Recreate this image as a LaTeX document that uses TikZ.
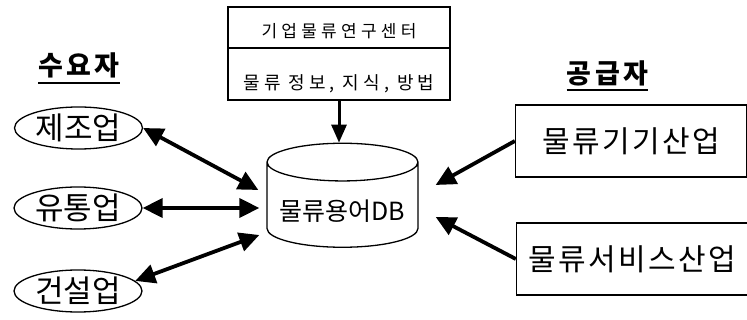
\documentclass[tikz,border=0pt]{standalone}
\usepackage{fontspec}
\newfontfamily\kr{Noto Sans CJK KR}
\usetikzlibrary{arrows.meta, calc, positioning, shapes.geometric}
\newcommand{\headline}[1]{\setbox0=\hbox{#1}\rlap{\vrule width\wd0 height -6pt depth 8pt}\box0}

\begin{document}
\begin{tikzpicture}[x=1pt, y=-1pt,
    title/.style={anchor=base, font=\kr\bfseries\fontsize{27}{29}\selectfont\addfontfeature{LetterSpace=13}},
    user/.style={draw, ellipse, line width=1.3pt, minimum width=128pt, minimum height=42pt, inner xsep=-4pt, inner ysep=-3pt, font=\kr\fontsize{31}{33}\selectfont},
    maker/.style={draw, line width=1.3pt, minimum width=231pt, minimum height=72pt, inner sep=0pt, font=\kr\fontsize{30}{32}\selectfont\addfontfeature{LetterSpace=8}},
    cell/.style={draw, line width=1.2pt, minimum width=222pt, inner sep=0pt, text depth=0pt},
    both/.style={line width=3.8pt, {Triangle[length=20pt,width=19pt]}-{Triangle[length=20pt,width=19pt]}},
    feed/.style={line width=3.8pt, -{Triangle[length=20pt,width=19pt]}},
    down/.style={line width=3pt, -{Triangle[length=18pt,width=15pt]}}
]
    \useasboundingbox (0,0) rectangle (747,320);

    % demand side
    \node[title] (dem) at (79,76) {\headline{수요자}};
    \node[user] (man) at (78.5,128) {제조업};
    \node[user] (dist) at (78,208) {유통업};
    \node[user] (con) at (78,291) {건설업};

    % research center
    \node[cell, minimum height=41pt, text height=19.5pt, font=\kr\fontsize{17}{19}\selectfont\addfontfeature{LetterSpace=25}] (ctr) at (339,27.5) {기업물류연구센터};
    \node[cell, minimum height=52pt, text height=31.5pt, font=\kr\fontsize{18}{20}\selectfont\addfontfeature{LetterSpace=22}] (info) at (339,74) {물류 정보, 지식, 방법};

    % database
    \node[draw, cylinder, shape border rotate=90, aspect=0.3, line width=1.3pt, minimum height=104pt, minimum width=151pt, inner sep=0pt, text height=32pt, text depth=0pt, font=\kr\fontsize{25}{27}\selectfont] (db) at (342.5,205) {물류용어DB};

    % supply side
    \node[title] (sup) at (607.5,83.5) {\headline{공급자}};
    \node[maker] (equip) at (631,141) {물류기기산업};
    \node[maker] (serv) at (632,259) {물류서비스산업};

    \coordinate (dbUL) at ($(db.west)+(-8,-15)$);
    \coordinate (dbML) at ($(db.west)+(-7,3)$);
    \coordinate (dbLL) at ($(db.west)+(-7,30)$);
    \coordinate (dbUR) at ($(db.east)+(17,-20)$);
    \coordinate (dbLR) at ($(db.east)+(17,12)$);

    \draw[down] (info.south) -- (info.south |- db.north);
    \draw[both] (man.east) -- (dbUL);
    \draw[both] (dist.east) -- (dbML);
    \draw[both] (con.10) -- (dbLL);
    \draw[feed] (equip.west) -- (dbUR);
    \draw[feed] (serv.west) -- (dbLR);
\end{tikzpicture}
\end{document}
